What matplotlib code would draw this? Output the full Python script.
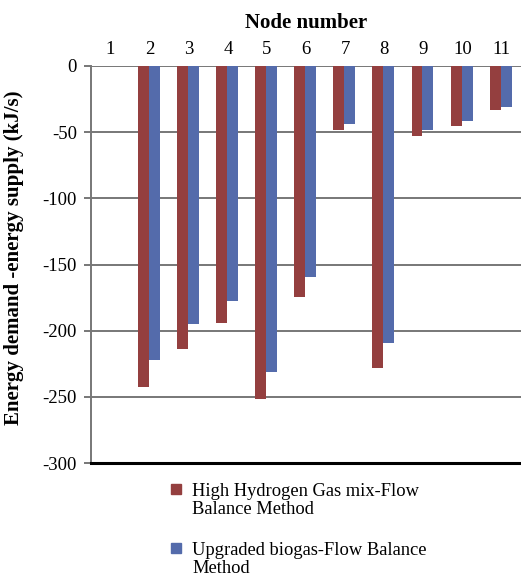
import numpy as np
import matplotlib.pyplot as plt
from matplotlib.patches import Rectangle

plt.rcParams['font.family'] = ['Liberation Serif', 'DejaVu Serif']
plt.rcParams['axes.unicode_minus'] = False

nodes = ['1', '2', '3', '4', '5', '6', '7', '8', '9', '10', '11']
high_h2 = [0, -242.5, -213.5, -194, -251.5, -174.5, -48, -228, -53, -45.7, -33.6]
biogas = [0, -222, -195.3, -177.6, -231, -159.7, -44.2, -209, -48.7, -41.9, -30.8]
labels = ['High Hydrogen Gas mix-Flow\nBalance Method',
          'Upgraded biogas-Flow Balance\nMethod']

red = '#943f3f'
blue = '#546bab'
grid_c = '#777777'

W, H = 521, 576
fig = plt.figure(figsize=(W / 100, H / 100), dpi=100)
ax = fig.add_axes([91 / W, 1 - 463 / H, 430 / W, 397 / H])

x = np.arange(1, len(nodes) + 1)
w = 0.28
ax.bar(x - w / 2 - 0.02, high_h2, w, color=red, zorder=3)
ax.bar(x + w / 2 - 0.02, biogas, w, color=blue, zorder=3)

ax.set_xlim(0.5, 11.5)
ax.set_ylim(-300, 0)
ax.set_yticks(np.arange(-300, 1, 50))
ax.yaxis.grid(True, color=grid_c, linewidth=1.4, zorder=0)
ax.set_axisbelow(True)

ax.xaxis.tick_top()
ax.xaxis.set_label_position('top')
ax.set_xticks(x)
ax.set_xticklabels(nodes)
ax.tick_params(axis='x', length=0, labelsize=13.5, pad=6)
ax.tick_params(axis='y', length=5, width=1.4, color=grid_c, labelsize=13.5, pad=5)

ax.spines['right'].set_visible(False)
ax.spines['top'].set_visible(False)
ax.spines['left'].set_color(grid_c)
ax.spines['left'].set_linewidth(1.4)
ax.spines['bottom'].set_color('black')
ax.spines['bottom'].set_linewidth(2.2)

ax.set_xlabel('Node number', fontsize=15, fontweight='bold', labelpad=9)
ax.set_ylabel('Energy demand -energy supply (kJ/s)', fontsize=15, fontweight='bold')
ax.yaxis.set_label_coords(-0.155, 0.518)

# legend below the plot, marker lined up with the first text line
for lab, col, top in zip(labels, [red, blue], [484, 543]):
    fig.add_artist(Rectangle((171 / W, 1 - (top + 9.5) / H), 10 / W, 9.5 / H,
                             transform=fig.transFigure, color=col))
    fig.text(192 / W, 1 - (top - 1) / H, lab, fontsize=13.3, va='top', ha='left',
             linespacing=1.1)

fig.savefig('out.png', dpi=100)
